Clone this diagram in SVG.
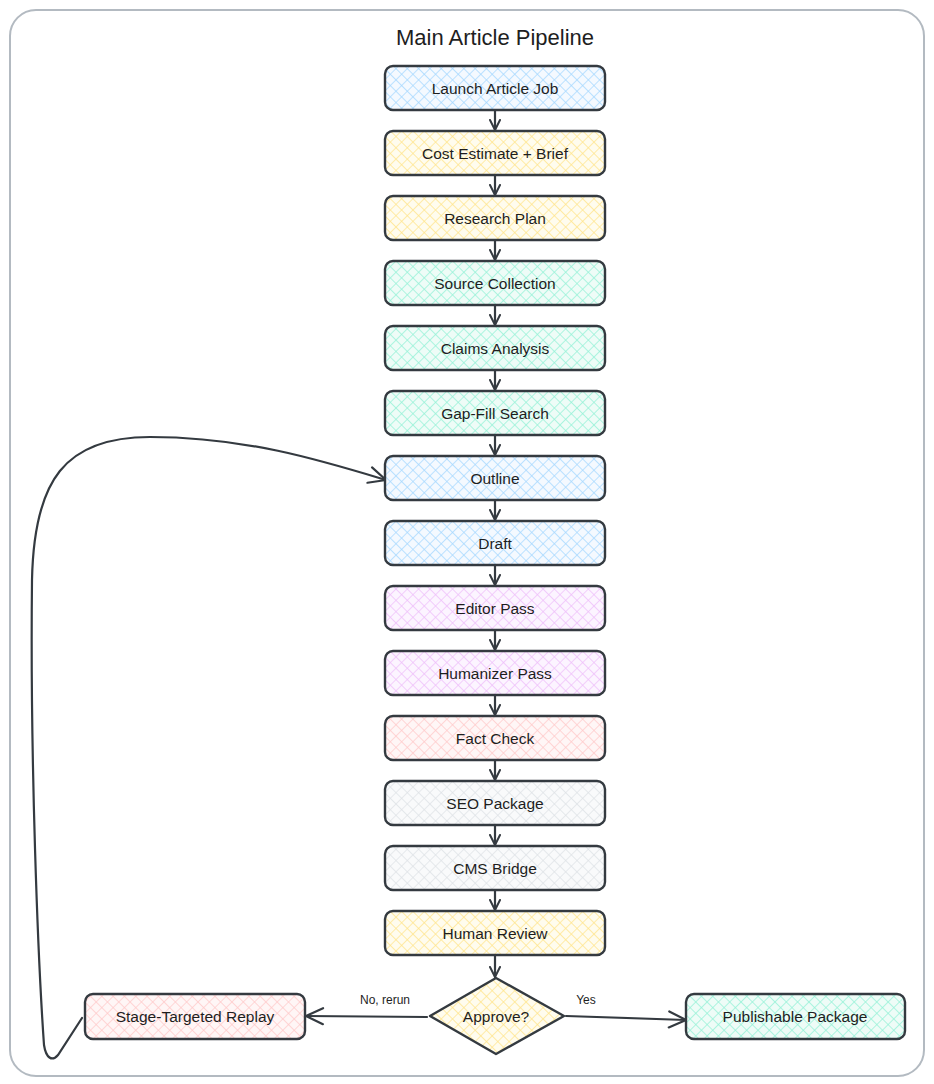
<svg xmlns="http://www.w3.org/2000/svg" width="934" height="1084" viewBox="0 0 934 1084">
<defs>
<style>
.frame{fill:#ffffff;stroke:#b3bac1;stroke-width:2}
.node rect,.node polygon{stroke:#343a40;stroke-width:2.4}
.lbl{font-family:"Liberation Sans",Arial,sans-serif;font-size:15.5px;fill:#1e1e1e;text-anchor:middle;dominant-baseline:central}
.title{font-family:"Liberation Sans",Arial,sans-serif;font-size:22px;fill:#1e1e1e;text-anchor:middle;dominant-baseline:central}
.elbl{font-family:"Liberation Sans",Arial,sans-serif;font-size:12px;fill:#1e1e1e;text-anchor:middle;dominant-baseline:central}
.conn path{fill:none;stroke:#343a40;stroke-width:2.2;stroke-linecap:round}
</style>
<marker id="arr" viewBox="0 0 12 12" refX="11" refY="6" markerWidth="12" markerHeight="12" markerUnits="userSpaceOnUse" orient="auto">
<path d="M1,1 L11,6 L1,11" fill="none" stroke="#343a40" stroke-width="2" stroke-linecap="round" stroke-linejoin="round"/>
</marker>
<marker id="arrL" viewBox="0 0 20 20" refX="19" refY="10" markerWidth="20" markerHeight="20" markerUnits="userSpaceOnUse" orient="auto">
<path d="M2,2 L19,10 L2,18" fill="none" stroke="#343a40" stroke-width="2.2" stroke-linecap="round" stroke-linejoin="round"/>
</marker>
<pattern id="hBlue" width="8" height="8" patternUnits="userSpaceOnUse" patternTransform="rotate(45)"><rect width="8" height="8" fill="#f4f9ff"/><path d="M0,0 H8 M0,0 V8" stroke="#a5d8ff" stroke-width="1.4"/></pattern>
<pattern id="hYellow" width="8" height="8" patternUnits="userSpaceOnUse" patternTransform="rotate(45)"><rect width="8" height="8" fill="#fffcee"/><path d="M0,0 H8 M0,0 V8" stroke="#ffe58a" stroke-width="1.4"/></pattern>
<pattern id="hGreen" width="8" height="8" patternUnits="userSpaceOnUse" patternTransform="rotate(45)"><rect width="8" height="8" fill="#eefcf7"/><path d="M0,0 H8 M0,0 V8" stroke="#96f2d7" stroke-width="1.5"/></pattern>
<pattern id="hPurple" width="8" height="8" patternUnits="userSpaceOnUse" patternTransform="rotate(45)"><rect width="8" height="8" fill="#fcf4ff"/><path d="M0,0 H8 M0,0 V8" stroke="#eebefa" stroke-width="1.4"/></pattern>
<pattern id="hRed" width="8" height="8" patternUnits="userSpaceOnUse" patternTransform="rotate(45)"><rect width="8" height="8" fill="#fff6f6"/><path d="M0,0 H8 M0,0 V8" stroke="#ffc9c9" stroke-width="1.4"/></pattern>
<pattern id="hGray" width="8" height="8" patternUnits="userSpaceOnUse" patternTransform="rotate(45)"><rect width="8" height="8" fill="#f9fafb"/><path d="M0,0 H8 M0,0 V8" stroke="#dee2e6" stroke-width="1.4"/></pattern>
</defs>

<rect class="frame" x="10" y="10" width="914" height="1066" rx="26"/>
<text class="title" x="495" y="37">Main Article Pipeline</text>

<g class="conn" id="connectors">
<path d="M495 110 V130" marker-end="url(#arr)"/>
<path d="M495 175 V195" marker-end="url(#arr)"/>
<path d="M495 240 V260" marker-end="url(#arr)"/>
<path d="M495 305 V325" marker-end="url(#arr)"/>
<path d="M495 370 V390" marker-end="url(#arr)"/>
<path d="M495 435 V455" marker-end="url(#arr)"/>
<path d="M495 500 V520" marker-end="url(#arr)"/>
<path d="M495 565 V585" marker-end="url(#arr)"/>
<path d="M495 630 V650" marker-end="url(#arr)"/>
<path d="M495 695 V715" marker-end="url(#arr)"/>
<path d="M495 760 V780" marker-end="url(#arr)"/>
<path d="M495 825 V845" marker-end="url(#arr)"/>
<path d="M495 890 V910" marker-end="url(#arr)"/>
<path d="M495 955 V977" marker-end="url(#arr)"/>
<path d="M427 1017 L306 1016" marker-end="url(#arrL)"/>
<text class="elbl" x="385" y="1000">No, rerun</text>
<path d="M566 1016 L686 1020" marker-end="url(#arrL)"/>
<text class="elbl" x="586" y="1000">Yes</text>
<path d="M82 1018 L58 1055 C52 1062 46 1058 44 1045 C38 960 30 760 32 580 C34 480 65 437 150 437 C245 437 320 460 386 480" marker-end="url(#arrL)"/>
</g>

<g class="node" id="n-launch"><rect x="385" y="66" width="220" height="44" rx="8" fill="url(#hBlue)"/><text class="lbl" x="495" y="88">Launch Article Job</text></g>
<g class="node" id="n-cost"><rect x="385" y="131" width="220" height="44" rx="8" fill="url(#hYellow)"/><text class="lbl" x="495" y="153">Cost Estimate + Brief</text></g>
<g class="node" id="n-research"><rect x="385" y="196" width="220" height="44" rx="8" fill="url(#hYellow)"/><text class="lbl" x="495" y="218">Research Plan</text></g>
<g class="node" id="n-source"><rect x="385" y="261" width="220" height="44" rx="8" fill="url(#hGreen)"/><text class="lbl" x="495" y="283">Source Collection</text></g>
<g class="node" id="n-claims"><rect x="385" y="326" width="220" height="44" rx="8" fill="url(#hGreen)"/><text class="lbl" x="495" y="348">Claims Analysis</text></g>
<g class="node" id="n-gap"><rect x="385" y="391" width="220" height="44" rx="8" fill="url(#hGreen)"/><text class="lbl" x="495" y="413">Gap-Fill Search</text></g>
<g class="node" id="n-outline"><rect x="385" y="456" width="220" height="44" rx="8" fill="url(#hBlue)"/><text class="lbl" x="495" y="478">Outline</text></g>
<g class="node" id="n-draft"><rect x="385" y="521" width="220" height="44" rx="8" fill="url(#hBlue)"/><text class="lbl" x="495" y="543">Draft</text></g>
<g class="node" id="n-editor"><rect x="385" y="586" width="220" height="44" rx="8" fill="url(#hPurple)"/><text class="lbl" x="495" y="608">Editor Pass</text></g>
<g class="node" id="n-humanizer"><rect x="385" y="651" width="220" height="44" rx="8" fill="url(#hPurple)"/><text class="lbl" x="495" y="673">Humanizer Pass</text></g>
<g class="node" id="n-fact"><rect x="385" y="716" width="220" height="44" rx="8" fill="url(#hRed)"/><text class="lbl" x="495" y="738">Fact Check</text></g>
<g class="node" id="n-seo"><rect x="385" y="781" width="220" height="44" rx="8" fill="url(#hGray)"/><text class="lbl" x="495" y="803">SEO Package</text></g>
<g class="node" id="n-cms"><rect x="385" y="846" width="220" height="44" rx="8" fill="url(#hGray)"/><text class="lbl" x="495" y="868">CMS Bridge</text></g>
<g class="node" id="n-review"><rect x="385" y="911" width="220" height="44" rx="8" fill="url(#hYellow)"/><text class="lbl" x="495" y="933">Human Review</text></g>
<g class="node" id="n-approve"><polygon points="496,978 564,1016 496,1054 430,1016" stroke-linejoin="round" fill="url(#hYellow)"/><text class="lbl" x="496" y="1016">Approve?</text></g>
<g class="node" id="n-replay"><rect x="85" y="994" width="220" height="45" rx="8" fill="url(#hRed)"/><text class="lbl" x="195" y="1016">Stage-Targeted Replay</text></g>
<g class="node" id="n-publish"><rect x="686" y="994" width="219" height="45" rx="8" fill="url(#hGreen)"/><text class="lbl" x="795" y="1016">Publishable Package</text></g>
</svg>
